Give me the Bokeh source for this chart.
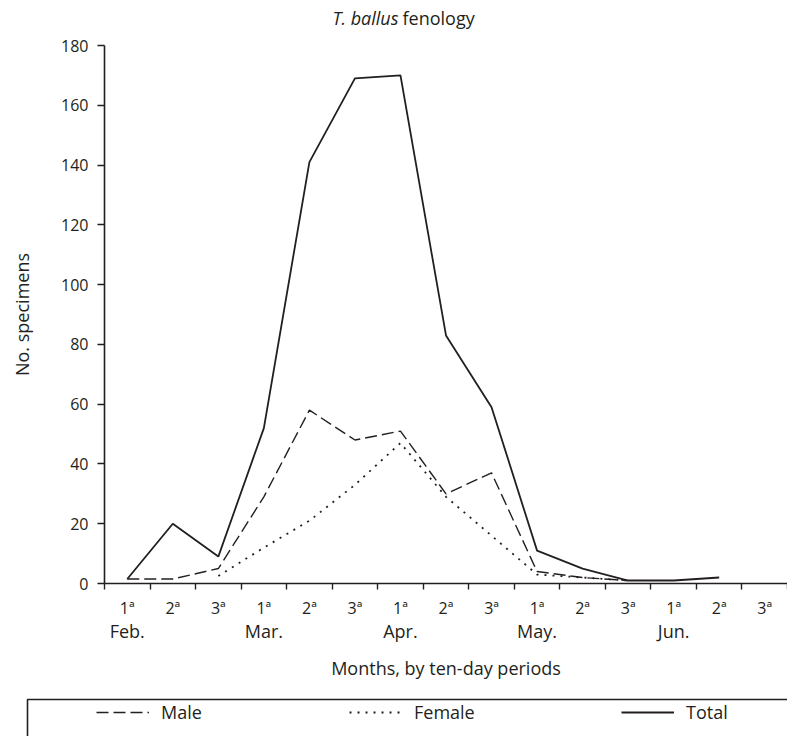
from bokeh.plotting import figure
from bokeh.models import (FixedTicker, LinearAxis, Range1d, Legend, LegendItem,
                          Label, BoxAnnotation, ColumnDataSource)
from bokeh.embed import file_html
from bokeh.resources import INLINE

# ---- data ----
months = ["Feb.", "Mar.", "Apr.", "May.", "Jun."]
periods = ["1ª", "2ª", "3ª"]
total = [1.5, 20, 9, 52, 141, 169, 170, 83, 59, 11, 5, 1, 1, 2]
male = [1.5, 1.5, 5, 29, 58, 48, 51, 30, 37, 4, 2, 1]
female = [2.5, 12, 21, 33, 47, 29, 16, 3, 2, 1]
female_start = 2  # female series starts at 3ª Feb.
y_max = 180
y_ticks = list(range(0, y_max + 1, 20))

# ---- styling / geometry (pixels) ----
INK = "#231f20"
FONT = "Open Sans"
FS_NUM = "16px"
FS_TXT = "18px"
W, H = 787, 736
AX_LEFT, AX_BOTTOM, AX_TOP = 104, 583, 45   # plot area edges on canvas

n_periods = len(months) * len(periods)
centers = [i + 0.5 for i in range(n_periods)]
bounds = list(range(n_periods + 1))

kx = (W - AX_LEFT) / n_periods
ky = (AX_BOTTOM - AX_TOP) / y_max
x_range = Range1d(-AX_LEFT / kx, n_periods)
y_range = Range1d(-(H - AX_BOTTOM) / ky, y_max + AX_TOP / ky)

TOTAL_STYLE = dict(line_color=INK, line_width=1.8)
MALE_STYLE = dict(line_color=INK, line_width=1.4, line_dash="12 5")
FEMALE_STYLE = dict(line_color=INK, line_width=1.8, line_dash="2 6")

p = figure(width=W, height=H, x_range=x_range, y_range=y_range,
           min_border=0, min_border_left=0, min_border_right=0,
           min_border_top=0, min_border_bottom=0,
           output_backend="svg", toolbar_location=None)
p.xgrid.visible = False
p.ygrid.visible = False
p.outline_line_color = None

src_t = ColumnDataSource(dict(x=centers[:len(total)], y=total))
src_m = ColumnDataSource(dict(x=centers[:len(male)], y=male))
src_f = ColumnDataSource(dict(x=centers[female_start:female_start + len(female)], y=female))

r_t = p.line("x", "y", source=src_t, **TOTAL_STYLE)
r_m = p.line("x", "y", source=src_m, **MALE_STYLE)
r_f = p.line("x", "y", source=src_f, **FEMALE_STYLE)

# ---- y axis ----
ya = p.yaxis[0]
ya.fixed_location = 0
ya.bounds = (0, y_max)
ya.ticker = FixedTicker(ticks=y_ticks)
ya.axis_label = "No. specimens"
ya.axis_label_text_font_style = "normal"
ya.axis_label_text_font = FONT
ya.axis_label_text_font_size = FS_TXT
ya.axis_label_text_color = INK
ya.axis_label_standoff = 24
ya.major_label_text_font = FONT
ya.major_label_text_font_size = FS_NUM
ya.major_label_text_color = INK
ya.major_label_standoff = 9
ya.major_tick_out = 7
ya.major_tick_in = 0
ya.minor_tick_out = 0
ya.minor_tick_in = 0
ya.axis_line_color = INK
ya.axis_line_width = 1.6
ya.major_tick_line_color = INK
ya.major_tick_line_width = 1.4

# ---- x axis: ten-day periods ----
xa = p.xaxis[0]
xa.fixed_location = 0
xa.bounds = (0, n_periods)
xa.ticker = FixedTicker(ticks=centers, minor_ticks=bounds)
xa.major_label_overrides = {c: periods[i % 3] for i, c in enumerate(centers)}
xa.major_tick_out = 0
xa.major_tick_in = 0
xa.minor_tick_out = 6
xa.minor_tick_in = 0
xa.minor_tick_line_color = INK
xa.minor_tick_line_width = 1.4
xa.axis_line_color = INK
xa.axis_line_width = 1.6
xa.major_label_standoff = 7
xa.major_label_text_font = FONT
xa.major_label_text_font_size = FS_NUM
xa.major_label_text_color = INK

# ---- x axis: months ----
month_ticks = [centers[i * 3] for i in range(len(months))]
xa2 = LinearAxis(ticker=FixedTicker(ticks=month_ticks), fixed_location=0,
                 bounds=(0, n_periods),
                 major_label_overrides={t: m for t, m in zip(month_ticks, months)},
                 axis_line_color=None, major_tick_line_color=None,
                 minor_tick_line_color=None, major_tick_out=0, major_tick_in=0,
                 minor_tick_out=0, minor_tick_in=0,
                 major_label_standoff=35,
                 major_label_text_font=FONT, major_label_text_font_size=FS_TXT,
                 major_label_text_color=INK,
                 axis_label="Months, by ten-day periods",
                 axis_label_text_font=FONT, axis_label_text_font_size=FS_TXT,
                 axis_label_text_font_style="normal", axis_label_text_color=INK,
                 axis_label_standoff=10)
p.add_layout(xa2, "below")

# ---- title ----
p.add_layout(Label(x=398, y=H - 17, x_units="screen", y_units="screen",
                   text="T. ballus", text_font=FONT, text_font_size=FS_TXT,
                   text_font_style="italic", text_align="right",
                   text_baseline="middle", text_color=INK))
p.add_layout(Label(x=402, y=H - 17, x_units="screen", y_units="screen",
                   text="fenology", text_font=FONT, text_font_size=FS_TXT,
                   text_align="left", text_baseline="middle", text_color=INK))

# ---- legend ----
p.add_layout(BoxAnnotation(left=27, right=W + 20, top=H - 699, bottom=-30,
                           left_units="screen", right_units="screen",
                           top_units="screen", bottom_units="screen",
                           fill_color=None, fill_alpha=0,
                           line_color=INK, line_alpha=1.0, line_width=1.6))
for lbl, rend, x0 in [("Male", r_m, 96), ("Female", r_f, 349), ("Total", r_t, 621)]:
    leg = Legend(items=[LegendItem(label=lbl, renderers=[rend])], location=(x0, 12),
                 orientation="horizontal", padding=0, margin=0,
                 border_line_color=None, background_fill_alpha=0,
                 glyph_width=53, glyph_height=24, label_height=24,
                 label_standoff=12, label_text_font=FONT,
                 label_text_font_size=FS_TXT, label_text_color=INK)
    p.add_layout(leg, "center")

open("out.html", "w").write(file_html(p, INLINE))
